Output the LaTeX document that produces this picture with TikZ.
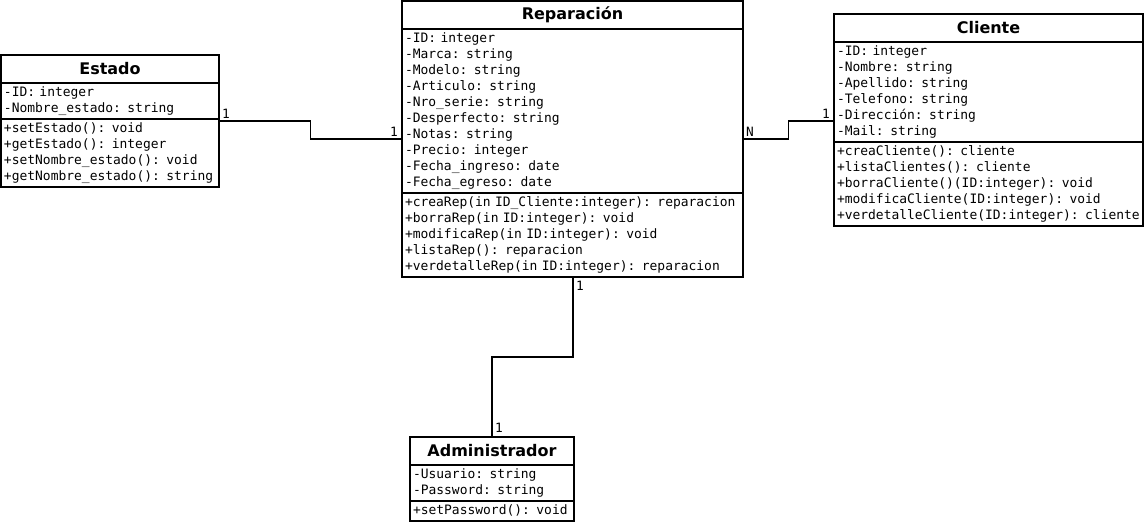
\documentclass[tikz,border=0pt]{standalone}
\usepackage{fontspec}
\setmainfont{DejaVu Sans}
\setmonofont{DejaVu Sans Mono}
\usepackage{tikz}
\usetikzlibrary{positioning,calc}
\newcommand{\classbox}[6]{
\node (#1) [classtitle, text width=#4, #3]{#2};
\node (#1Attr) [classbody, text width=#4, below=0pt of #1]{#5};
\node (#1Ops) [classbody, text width=#4, below=0pt of #1Attr]{#6};}
\tikzstyle{classpart}=[rectangle, draw=black, line width=1.5pt, outer sep=0pt, inner xsep=3pt]
\tikzstyle{classtitle}=[classpart, anchor=north west, inner ysep=0pt, minimum height=28pt,
        align=center, font=\bfseries\fontsize{16}{19}\selectfont]
\tikzstyle{classbody}=[classpart, inner ysep=2pt, align=left,
        font=\ttfamily\fontsize{12.95}{16}\selectfont,
        execute at begin node=\strut, execute at end node=\strut]
\tikzstyle{assocLine}=[line width=1.5pt]
\tikzstyle{mult}=[inner sep=1pt, font=\ttfamily\fontsize{12.8}{15}\selectfont]

\begin{document}
\begin{tikzpicture}[x=1pt, y=-1pt]

\fill[white] (0,0) rectangle (1147,524);
\useasboundingbox (0,0) rectangle (1147,524);

\classbox{Estado}{Estado}{at={(1,55)}}{212pt}
  {-ID: integer\\-Nombre\_estado: string}
  {+setEstado(): void\\+getEstado(): integer\\+setNombre\_estado(): void\\+getNombre\_estado(): string}
\classbox{Reparacion}{Reparación}{at={(402,1)}}{335pt}
  {-ID: integer\\-Marca: string\\-Modelo: string\\-Articulo: string\\-Nro\_serie: string\\
   -Desperfecto: string\\-Notas: string\\-Precio: integer\\-Fecha\_ingreso: date\\-Fecha\_egreso: date}
  {+creaRep(in ID\_Cliente:integer): reparacion\\+borraRep(in ID:integer): void\\
   +modificaRep(in ID:integer): void\\+listaRep(): reparacion\\+verdetalleRep(in ID:integer): reparacion}
\classbox{Cliente}{Cliente}{at={(834,14)}}{303pt}
  {-ID: integer\\-Nombre: string\\-Apellido: string\\-Telefono: string\\-Dirección: string\\-Mail: string}
  {+creaCliente(): cliente\\+listaClientes(): cliente\\+borraCliente()(ID:integer): void\\
   +modificaCliente(ID:integer): void\\+verdetalleCliente(ID:integer): cliente}
\classbox{Administrador}{Administrador}{at={(410,437)}}{158pt}
  {-Usuario: string\\-Password: string}
  {+setPassword(): void}

% connector ends
\coordinate (EstadoEnd) at ([yshift=-2pt]EstadoOps.north east);
\coordinate (RepLeft) at ([yshift=-110pt]ReparacionAttr.north west);
\coordinate (RepRight) at ([yshift=-110pt]ReparacionAttr.north east);
\coordinate (ClienteEnd) at ([yshift=-79pt]ClienteAttr.north west);
\coordinate (RepBottom) at ([xshift=171pt]ReparacionOps.south west);
\coordinate (AdminEnd) at ([xshift=82pt]Administrador.north west);

\draw[assocLine] (EstadoEnd) -| ($(EstadoEnd)!0.5!(RepLeft)$) |- (RepLeft);
\draw[assocLine] (RepRight) -| ($(RepRight)!0.5!(ClienteEnd)$) |- (ClienteEnd);
\draw[assocLine] (RepBottom) |- ($(RepBottom)!0.5!(AdminEnd)$) -| (AdminEnd);

\node (MultEstado) [mult, above right=1pt and 2pt of EstadoEnd]{1};
\node (MultRepL) [mult, above left=1pt and 3pt of RepLeft]{1};
\node (MultRepR) [mult, above right=1pt and 2pt of RepRight]{N};
\node (MultCliente) [mult, above left=1pt and 3pt of ClienteEnd]{1};
\node (MultRepB) [mult, below right=3pt and 2pt of RepBottom]{1};
\node (MultAdmin) [mult, above right=3pt and 2pt of AdminEnd]{1};

\end{tikzpicture}
\end{document}
